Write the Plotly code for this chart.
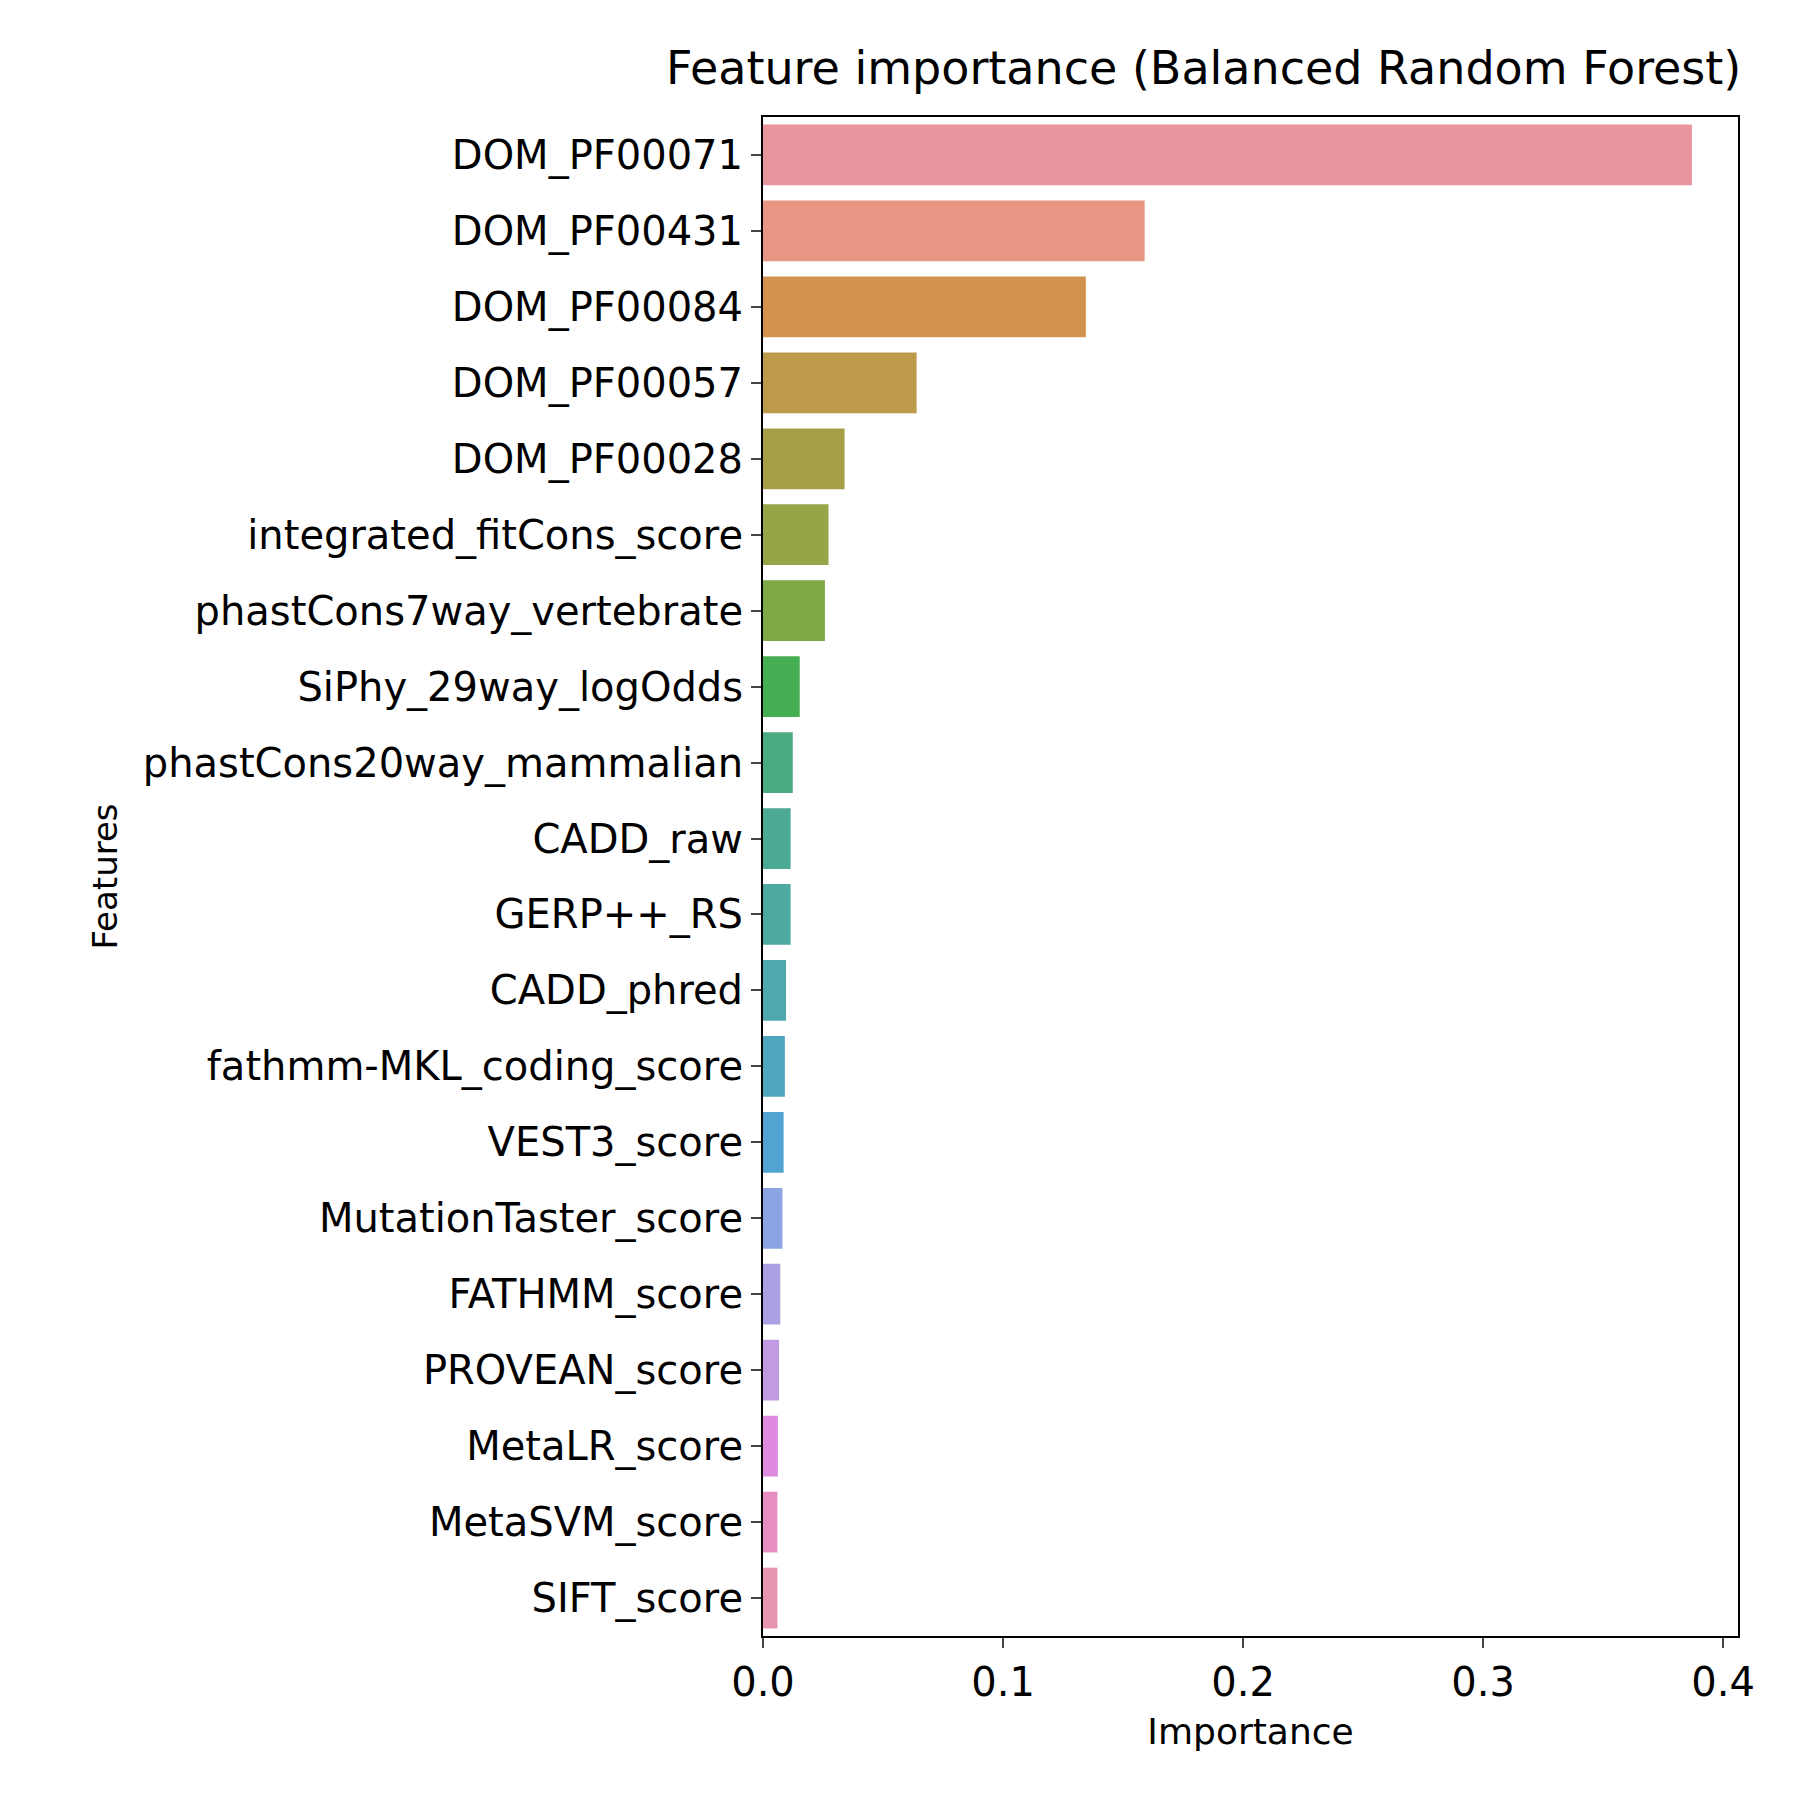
import plotly.graph_objects as go

features = ["DOM_PF00071", "DOM_PF00431", "DOM_PF00084", "DOM_PF00057", "DOM_PF00028",
            "integrated_fitCons_score", "phastCons7way_vertebrate", "SiPhy_29way_logOdds",
            "phastCons20way_mammalian", "CADD_raw", "GERP++_RS", "CADD_phred",
            "fathmm-MKL_coding_score", "VEST3_score", "MutationTaster_score", "FATHMM_score",
            "PROVEAN_score", "MetaLR_score", "MetaSVM_score", "SIFT_score"]
importance = [0.387, 0.159, 0.1345, 0.064, 0.034, 0.0273, 0.0258, 0.0153, 0.0124, 0.0115,
              0.0115, 0.0096, 0.0091, 0.0086, 0.0081, 0.0072, 0.0067, 0.0062, 0.006, 0.006]
colors = ["#E8959F", "#E69682", "#D3924D", "#BD994A", "#A99E48", "#97A447", "#7EA946",
          "#45AD52", "#4AAA81", "#4BA994", "#4DA9A2", "#4EA8AE", "#50A6BD", "#53A3D2",
          "#8CA4E2", "#A9A1E2", "#C29AE3", "#DD8AE0", "#E68EC3", "#E794B2"]

font = "DejaVu Sans"
fig = go.Figure(go.Bar(x=importance, y=features, orientation="h", marker_color=colors,
                       marker_line_width=0, width=0.8))
fig.update_layout(
    width=1800, height=1800, plot_bgcolor="white", paper_bgcolor="white",
    margin=dict(l=755, r=70, t=109, b=172),
    font=dict(family=font, size=34, color="black"),
    showlegend=False,
    title=dict(text="Feature importance (Balanced Random Forest)", x=658 / 1800,
               xanchor="left", y=1 - 60 / 1800, yanchor="middle", font=dict(size=46)),
)
fig.update_xaxes(range=[0, 0.4062], tickvals=[0, 0.1, 0.2, 0.3, 0.4],
                 ticktext=["0.0", "0.1", "0.2", "0.3", "0.4"], ticks="outside", ticklen=10,
                 tickwidth=2, showline=True, linecolor="black", linewidth=2, mirror=True,
                 showgrid=False, zeroline=False, tickfont=dict(size=40),
                 title=dict(text="Importance", standoff=15, font=dict(size=36)))
fig.update_yaxes(autorange="reversed", ticks="outside", ticklen=10, tickwidth=2,
                 showline=True, linecolor="black", linewidth=2, mirror=True, showgrid=False,
                 range=[19.5, -0.5], tickfont=dict(size=40),
                 title=dict(text="Features", standoff=15, font=dict(size=34)))
fig.write_html("out.html")
